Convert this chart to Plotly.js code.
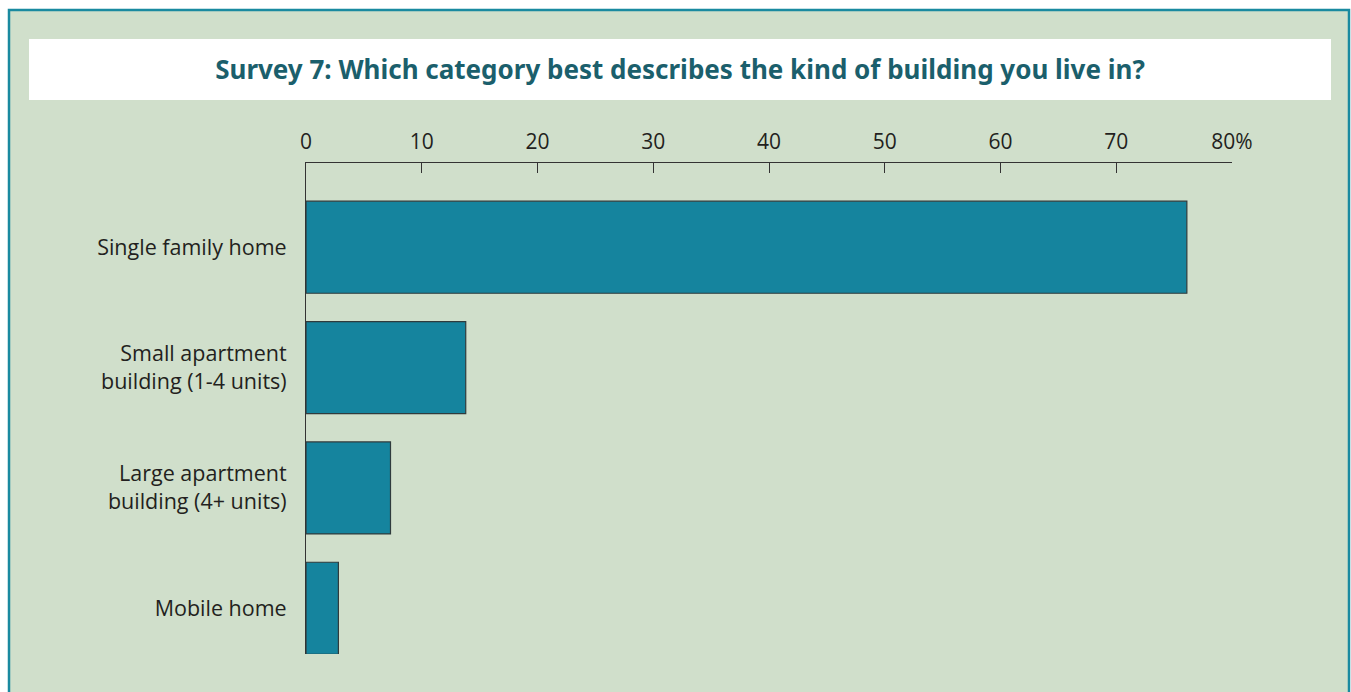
<!DOCTYPE html>
<html>
<head>
<meta charset="utf-8">
<script src="https://cdn.plot.ly/plotly-3.0.1.min.js"></script>
<style>
  body { margin: 0; background: #ffffff; }
  #chart { width: 1351px; height: 692px; }
</style>
</head>
<body>
<div id="chart"></div>
<script>
// data
const categories = [
  'Single family home',
  'Small apartment<br>building (1-4 units)',
  'Large apartment<br>building (4+ units)',
  'Mobile home'
];
const percents = [76.1, 13.8, 7.3, 2.8];
const tickValues = [0, 10, 20, 30, 40, 50, 60, 70, 80];
const tickLabels = ['0', '10', '20', '30', '40', '50', '60', '70', '80%'];

// plot area in pixels
const L = 306, R = 1232, T = 163, B = 654;
const px = x => (x - L) / (R - L);
const py = y => (B - y) / (B - T);

const trace = {
  type: 'bar',
  orientation: 'h',
  x: percents,
  y: categories,
  width: 0.765,
  marker: { color: '#15849e', line: { color: '#2f3b3d', width: 1.2 } },
  hoverinfo: 'x+y'
};

const layout = {
  width: 1351,
  height: 692,
  margin: { l: L, r: 1351 - R, t: T, b: 692 - B },
  paper_bgcolor: '#ffffff',
  plot_bgcolor: 'rgba(0,0,0,0)',
  showlegend: false,
  font: { family: 'Open Sans, sans-serif', color: '#231f20', size: 20 },
  title: {
    text: '<b>Survey 7: Which category best describes the kind of building you live in?</b>',
    font: { family: 'Noto Sans, sans-serif', size: 26, color: '#1b5f6c' },
    x: 680 / 1351, xanchor: 'center', xref: 'container',
    y: 1 - 70 / 692, yanchor: 'middle', yref: 'container'
  },
  xaxis: {
    side: 'top',
    range: [0, 80],
    tickvals: tickValues,
    ticktext: tickLabels,
    ticks: 'inside',
    ticklen: 10,
    tickcolor: '#333',
    showline: true,
    linecolor: '#333',
    linewidth: 1,
    showgrid: false,
    zeroline: false,
    tickfont: { size: 21, color: '#231f20' },
    ticklabelstandoff: 5,
    fixedrange: true
  },
  yaxis: {
    type: 'category',
    range: [3.38, -0.7],
    showline: true,
    linecolor: '#333',
    linewidth: 1,
    ticks: '',
    showgrid: false,
    zeroline: false,
    tickfont: { size: 21.5, color: '#231f20' },
    ticklabelstandoff: 14,
    fixedrange: true
  },
  shapes: [
    {
      type: 'rect', layer: 'below', xref: 'paper', yref: 'paper',
      x0: px(9), x1: px(1349), y0: py(705), y1: py(10),
      fillcolor: '#d0dfcb', line: { color: '#1a8aa0', width: 2.5 }
    },
    {
      type: 'rect', layer: 'below', xref: 'paper', yref: 'paper',
      x0: px(29), x1: px(1331), y0: py(100), y1: py(39),
      fillcolor: '#ffffff', line: { width: 0 }
    }
  ]
};

Plotly.newPlot('chart', [trace], layout, { displayModeBar: false, staticPlot: true });
</script>
</body>
</html>
